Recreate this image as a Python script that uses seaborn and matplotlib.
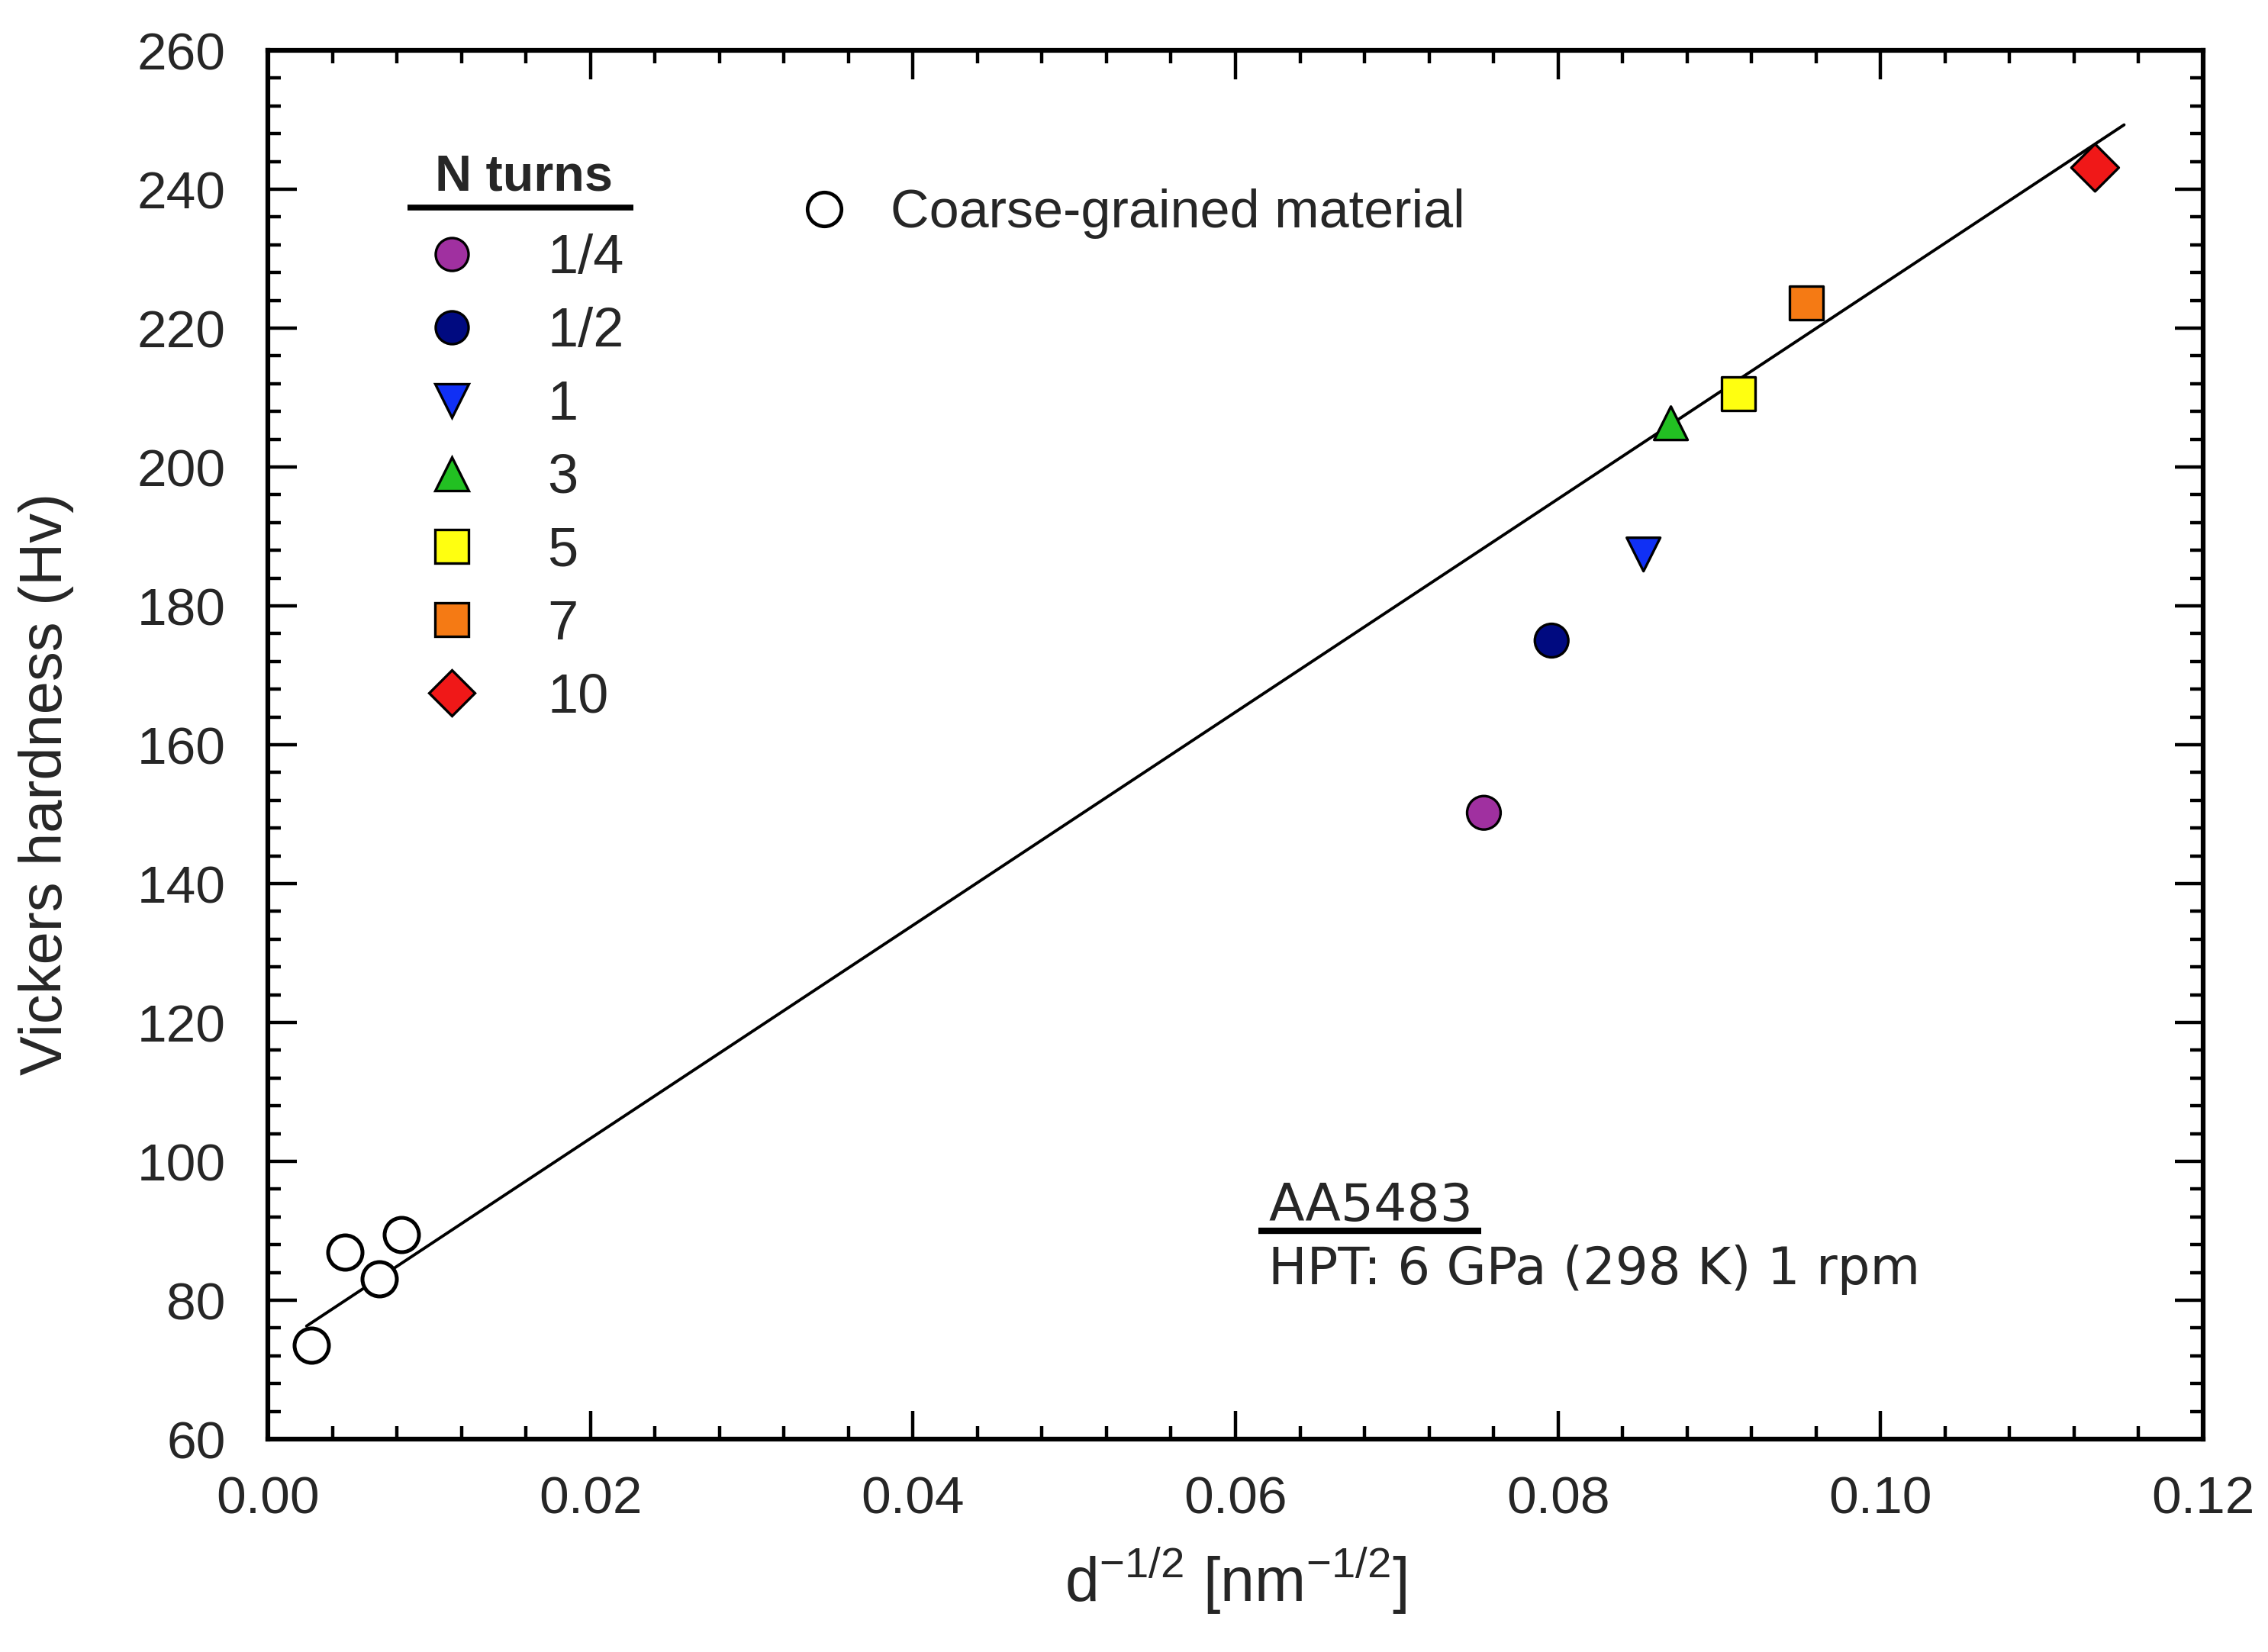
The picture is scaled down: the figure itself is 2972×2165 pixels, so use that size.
import numpy as np
import pandas as pd
import seaborn as sns
import matplotlib
matplotlib.use("Agg")
import matplotlib.pyplot as plt
from matplotlib.lines import Line2D
from matplotlib.ticker import MultipleLocator

# ---------------- data ----------------
coarse_x = [0.0027, 0.0048, 0.0069, 0.0083]
coarse_y = [73.5, 86.9, 83.1, 89.4]

turn_labels = ["1/4", "1/2", "1", "3", "5", "7", "10"]
hpt_x = [0.0754, 0.0796, 0.0853, 0.0870, 0.0912, 0.0954, 0.1133]
hpt_y = [150.2, 175.0, 187.4, 206.3, 210.5, 223.6, 243.1]
turn_colors = ["#A030A0", "#000A80", "#1030F5", "#22C022", "#FFFF10", "#F57A14", "#F01818"]
turn_markers = ["o", "o", "v", "^", "s", "s", "D"]

fit_intercept = 72.6
fit_slope = 1535.0
fit_x_range = [0.0024, 0.1151]

xticks = [0.00, 0.02, 0.04, 0.06, 0.08, 0.10, 0.12]
xticklabels = ["0.00", "0.02", "0.04", "0.06", "0.08", "0.10", "0.12"]
yticks = [60, 80, 100, 120, 140, 160, 180, 200, 220, 240, 260]

# ---------------- figure ----------------
sns.set_theme(style="ticks")
plt.rcParams["font.family"] = ["Liberation Sans", "DejaVu Sans"]

fig = plt.figure(figsize=(29.72, 21.65), dpi=100)
ax = fig.add_axes([351 / 2972, 1 - 1886 / 2165, (2887 - 351) / 2972, (1886 - 66) / 2165])

# fit line
fx = np.array(fit_x_range)
fit_df = pd.DataFrame({"x": fx, "y": fit_intercept + fit_slope * fx})
sns.lineplot(data=fit_df, x="x", y="y", ax=ax, color="black", linewidth=2.8, zorder=2)

# coarse grained
cdf = pd.DataFrame({"x": coarse_x, "y": coarse_y})
sns.scatterplot(data=cdf, x="x", y="y", ax=ax, marker="o", s=1050, facecolor="white",
                edgecolor="black", linewidth=3.6, zorder=3, legend=False)

# HPT samples
hdf = pd.DataFrame({"x": hpt_x, "y": hpt_y, "N": turn_labels})
sns.scatterplot(data=hdf, x="x", y="y", hue="N", style="N", ax=ax,
                palette=dict(zip(turn_labels, turn_colors)),
                markers=dict(zip(turn_labels, turn_markers)),
                s=1000, edgecolor="black", linewidth=2.4, zorder=4, legend=False)

ax.set_xlim(0, 0.12)
ax.set_ylim(60, 260)
ax.set_xticks(xticks)
ax.set_xticklabels(xticklabels)
ax.set_yticks(yticks)
ax.xaxis.set_minor_locator(MultipleLocator(0.004))
ax.yaxis.set_minor_locator(MultipleLocator(4))
ax.tick_params(which="both", direction="in", top=True, right=True, labelsize=50, width=3.2, color="black")
ax.tick_params(which="major", length=27)
ax.tick_params(which="minor", length=12)
ax.tick_params(axis="x", which="major", pad=34)
ax.tick_params(axis="y", which="major", pad=40)
for sp in ax.spines.values():
    sp.set_linewidth(4.5)
    sp.set_color("black")
    sp.set_visible(True)

ax.set_xlabel(r"d$^{\mathregular{-1/2}}$ [nm$^{\mathregular{-1/2}}$]", fontsize=58, labelpad=20)
ax.set_ylabel("Vickers hardness (Hv)", fontsize=56)
ax.yaxis.set_label_coords(-0.100, 0.472)

# legend for N turns
ax.text(0.1323, 0.899, "N turns", transform=ax.transAxes, fontsize=48, fontweight="bold",
        ha="center", va="baseline")
ax.plot([0.0722, 0.189], [0.887, 0.887], transform=ax.transAxes, color="black",
        linewidth=5.5, solid_capstyle="butt", clip_on=False)
handles = [Line2D([], [], linestyle="none", marker=m, markersize=31, markerfacecolor=c,
                  markeredgecolor="black", markeredgewidth=2.4)
           for m, c in zip(turn_markers, turn_colors)]
leg = ax.legend(handles, turn_labels, loc="upper left",
                bbox_to_anchor=(0.0749, 0.876), frameon=False, fontsize=52,
                labelspacing=0.40, handlelength=1.0, handletextpad=1.24, borderpad=0.2,
                borderaxespad=0.0)
ax.add_artist(leg)

# coarse grained legend
h2 = [Line2D([], [], linestyle="none", marker="o", markersize=32, markerfacecolor="white",
             markeredgecolor="black", markeredgewidth=3.4)]
ax.legend(h2, ["Coarse-grained material"], loc="upper left", bbox_to_anchor=(0.268, 0.908),
          frameon=False, fontsize=50.5, handlelength=1.0, handletextpad=0.74, borderpad=0.2,
          borderaxespad=0.0)

# annotation
ax.text(0.517, 0.157, "AA5483", transform=ax.transAxes, fontsize=49,
        family="DejaVu Sans", ha="left", va="baseline")
ax.plot([0.512, 0.627], [0.150, 0.150], transform=ax.transAxes, color="black",
        linewidth=6.0, solid_capstyle="butt")
ax.text(0.517, 0.1115, "HPT: 6 GPa (298 K) 1 rpm", transform=ax.transAxes, fontsize=48.5,
        family="DejaVu Sans", ha="left", va="baseline")

fig.savefig("out.png", dpi=100, facecolor="white")
